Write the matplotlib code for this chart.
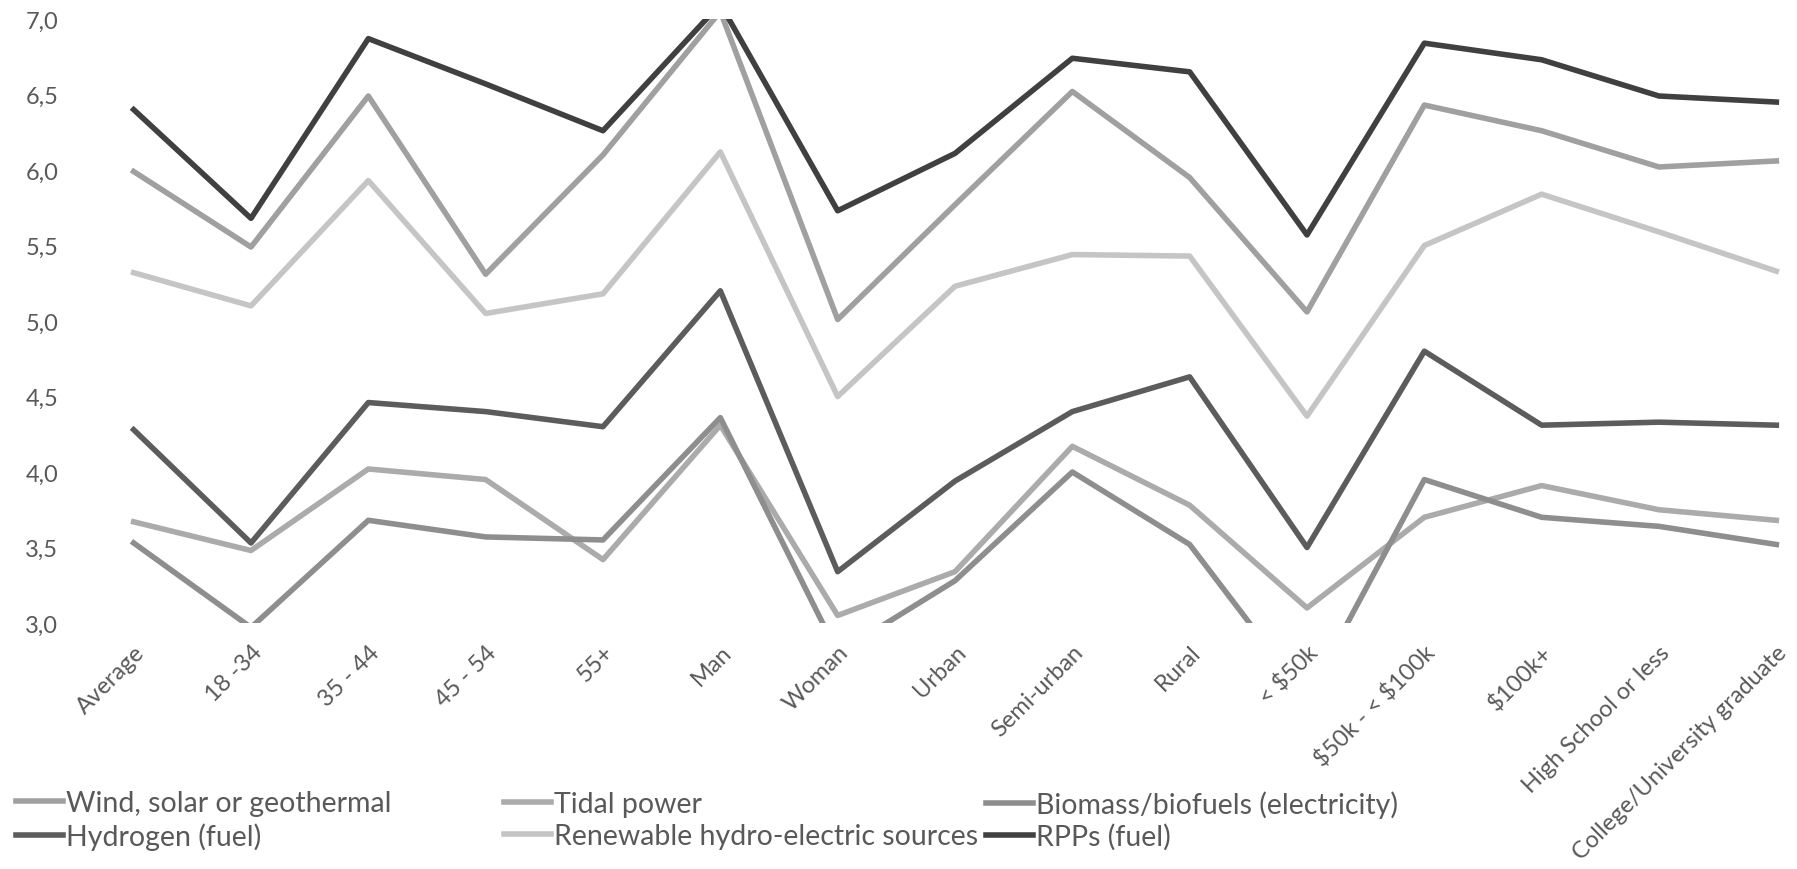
import matplotlib
matplotlib.use("Agg")
import matplotlib.pyplot as plt
import numpy as np

plt.rcParams["font.family"] = ["Lato", "DejaVu Sans"]

# ── Data ───────────────────────────────────────────────────────────────────
categories = ["Average", "18 -34", "35 - 44", "45 - 54", "55+", "Man", "Woman",
              "Urban", "Semi-urban", "Rural", "< \\$50k", "\\$50k - < \\$100k",
              "\\$100k+", "High School or less", "College/University graduate"]

wind      = [5.99, 5.49, 6.49, 5.31, 6.10, 7.05, 5.01, 5.77, 6.52, 5.95,
             5.06, 6.43, 6.26, 6.02, 6.06]
tidal     = [3.67, 3.48, 4.02, 3.95, 3.42, 4.31, 3.05, 3.34, 4.17, 3.78,
             3.10, 3.70, 3.91, 3.75, 3.68]
biomass   = [3.53, 2.97, 3.68, 3.57, 3.55, 4.36, 2.80, 3.28, 4.00, 3.52,
             2.50, 3.95, 3.70, 3.64, 3.52]
hydrogen  = [4.28, 3.53, 4.46, 4.40, 4.30, 5.20, 3.34, 3.94, 4.40, 4.63,
             3.50, 4.80, 4.31, 4.33, 4.31]
hydro     = [5.32, 5.10, 5.93, 5.05, 5.18, 6.12, 4.50, 5.23, 5.44, 5.43,
             4.37, 5.50, 5.84, 5.59, 5.33]
rpps      = [6.40, 5.68, 6.87, 6.57, 6.26, 7.10, 5.73, 6.11, 6.74, 6.65,
             5.57, 6.84, 6.73, 6.49, 6.45]

series_names = ["Wind, solar or geothermal", "Tidal power",
                "Biomass/biofuels (electricity)", "Hydrogen (fuel)",
                "Renewable hydro-electric sources", "RPPs (fuel)"]

# ── Style ──────────────────────────────────────────────────────────────────
TEXT = "#595959"
colors = ["#a0a0a0", "#ababab", "#8e8e8e", "#5c5c5c", "#c5c5c5", "#404040"]
TICK_FS = 17
LEG_FS = 20.5

# ── Canvas ─────────────────────────────────────────────────────────────────
fig = plt.figure(figsize=(17.97, 8.70), dpi=100)
ax = fig.add_axes([75 / 1797, 1 - 624 / 870, (1835 - 75) / 1797, (624 - 20) / 870])

x = np.arange(len(categories))
lines = []
for name, vals, col in zip(series_names,
                           [wind, tidal, biomass, hydrogen, hydro, rpps],
                           colors):
    ln, = ax.plot(x, vals, color=col, lw=4, label=name)
    lines.append(ln)

ax.set_xlim(-0.5, len(categories) - 0.5)
ax.set_ylim(3, 7)
ax.set_yticks(np.arange(3, 7.01, 0.5))
ax.set_yticklabels([f"{v:.1f}".replace(".", ",") for v in np.arange(3, 7.01, 0.5)])
ax.set_xticks(x)
ax.set_xticklabels(categories, rotation=45, ha="right", va="top",
                   rotation_mode="anchor")
ax.tick_params(axis="both", length=0, labelsize=TICK_FS, labelcolor=TEXT)
ax.tick_params(axis="y", pad=12)
ax.tick_params(axis="x", pad=13)
for s in ax.spines.values():
    s.set_visible(False)

# ── Legend: three columns placed like the Excel legend ─────────────────────
col_x = [16, 504, 986]
cols = [(0, 3), (1, 4), (2, 5)]
for cx, (a, b) in zip(col_x, cols):
    fig.legend(handles=[lines[a], lines[b]],
               labels=[series_names[a], series_names[b]],
               loc="center left", bbox_to_anchor=(cx / 1797, 1 - 821 / 870),
               frameon=False, fontsize=LEG_FS, labelcolor=TEXT,
               handlelength=1.65, handletextpad=0.12, borderpad=0,
               borderaxespad=0, labelspacing=0.2)

fig.savefig("out.png", dpi=100, facecolor="white")
plt.close(fig)
